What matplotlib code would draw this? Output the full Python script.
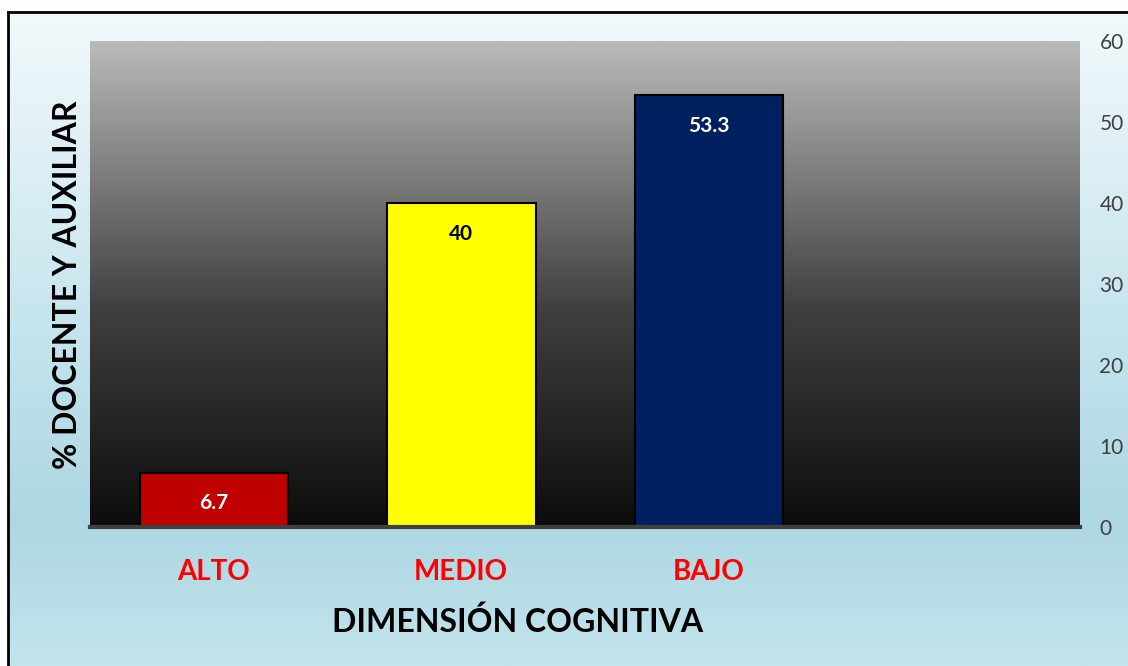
import matplotlib
matplotlib.use('Agg')
import matplotlib.pyplot as plt
import numpy as np
from matplotlib.colors import LinearSegmentedColormap

# data
categories = ["ALTO", "MEDIO", "BAJO"]
values = [6.7, 40, 53.3]
bar_colors = ["#c00000", "#ffff00", "#002060"]
label_colors = ["white", "black", "white"]
y_ticks = [0, 10, 20, 30, 40, 50, 60]

W, H = 1128, 666
fig = plt.figure(figsize=(W / 100, H / 100), dpi=100)
fig.patch.set_facecolor("white")

font = "Lato"

# light blue gradient background inside the chart box
bg = fig.add_axes([8 / W, 0, 1 - 8 / W, 1 - 12 / H])
bg_cmap = LinearSegmentedColormap.from_list(
    "bg", [(0, "#c4e4ec"), (0.22, "#acd7e3"), (0.6, "#cde8f0"), (1, "#f2f9fb")])
bg.imshow(np.linspace(0, 1, 256).reshape(-1, 1), cmap=bg_cmap, aspect="auto",
          extent=[0, 1, 0, 1], origin="lower")
bg.set_xlim(0, 1)
bg.set_ylim(0, 1)
bg.set_xticks([])
bg.set_yticks([])
for s in ["right", "bottom"]:
    bg.spines[s].set_visible(False)
for s in ["left", "top"]:
    bg.spines[s].set_linewidth(2)
    bg.spines[s].set_color("black")

# plot area
ax = fig.add_axes([90 / W, 1 - 527 / H, (1080 - 90) / W, (527 - 41) / H])
ax.set_zorder(2)
plot_cmap = LinearSegmentedColormap.from_list(
    "pa", [(0, "#0c0c0c"), (0.45, "#404040"), (1, "#bababa")])
ax.imshow(np.linspace(0, 1, 256).reshape(-1, 1), cmap=plot_cmap, aspect="auto",
          extent=[-0.5, 3.5, 0, 60], origin="lower", zorder=0)

x = np.arange(len(categories))
ax.bar(x, values, width=0.6, color=bar_colors, edgecolor="black",
       linewidth=1.5, zorder=3)

for i, val in enumerate(values):
    ax.annotate(f"{val:g}", (x[i], val), xytext=(0, -22),
                textcoords="offset points", ha="center", va="center",
                fontsize=15, fontweight="bold", color=label_colors[i],
                family=font, zorder=4)

ax.set_xlim(-0.5, 3.5)
ax.set_ylim(0, 60)
ax.set_xticks(x)
ax.set_xticklabels(categories, color="#ff0000", fontsize=20,
                   fontweight="bold", family=font)
ax.tick_params(axis="x", length=0, pad=23)
ax.yaxis.tick_right()
ax.set_yticks(y_ticks)
ax.set_yticklabels([str(t) for t in y_ticks], color="#404040", fontsize=15,
                   family=font)
ax.tick_params(axis="y", length=0, pad=14)
for s in ["left", "right", "top"]:
    ax.spines[s].set_visible(False)
ax.spines["bottom"].set_color("#404040")
ax.spines["bottom"].set_linewidth(3)
ax.spines["bottom"].set_zorder(5)

fig.text(518 / W, 1 - 622 / H, "DIMENSIÓN COGNITIVA", ha="center",
         va="center", fontsize=23, fontweight="bold", family=font)
fig.text(68 / W, 1 - 285 / H, "% DOCENTE Y AUXILIAR", ha="center",
         va="center", rotation=90, fontsize=23, fontweight="bold", family=font)

plt.savefig("out.png", dpi=100)
